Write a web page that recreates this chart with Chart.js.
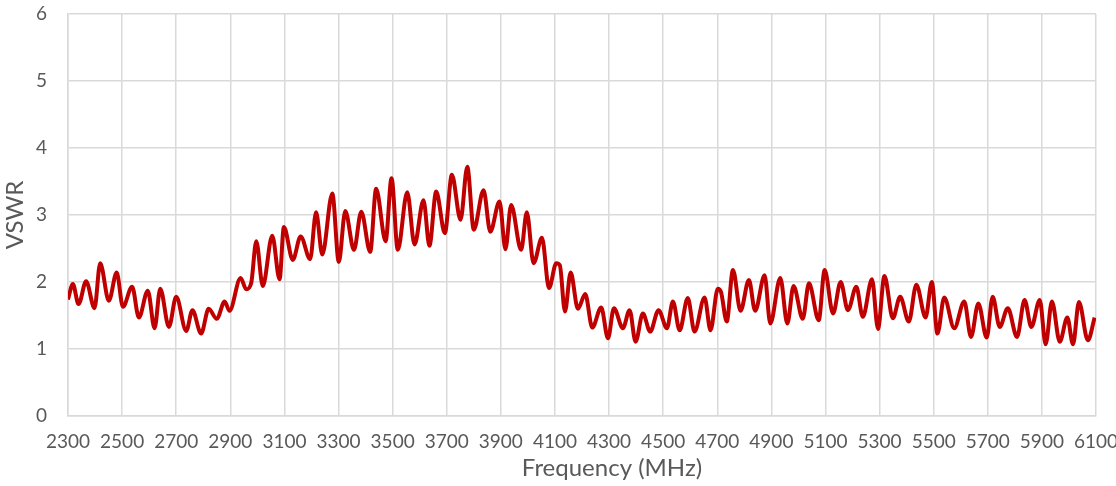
<!DOCTYPE html>
<html>
<head>
<meta charset="utf-8">
<script src="https://cdn.jsdelivr.net/npm/chart.js@4.4.1/dist/chart.umd.min.js"></script>
<style>
  html, body { margin: 0; padding: 0; background: #fff; }
  #wrap { width: 1116px; height: 486px; position: relative; }
</style>
</head>
<body>
<div id="wrap"><canvas id="myChart"></canvas></div>
<script>
const freq = [
  2300, 2318, 2339, 2367, 2398, 2419, 2451, 2480, 2503, 2537, 2562, 2595, 2620, 2641, 2673, 2700,
  2737, 2760, 2792, 2820, 2850, 2879, 2897, 2938, 2959, 2977, 2996, 3020, 3055, 3082, 3098, 3131,
  3160, 3195, 3217, 3240, 3277, 3301, 3325, 3357, 3384, 3417, 3439, 3474, 3496, 3519, 3554, 3581,
  3614, 3636, 3661, 3693, 3719, 3751, 3776, 3800, 3836, 3861, 3895, 3917, 3938, 3975, 3996, 4021,
  4052, 4078, 4105, 4118, 4137, 4158, 4185, 4212, 4238, 4271, 4296, 4318, 4351, 4376, 4398, 4425,
  4452, 4483, 4514, 4536, 4561, 4591, 4616, 4653, 4675, 4702, 4714, 4735, 4758, 4786, 4817, 4840,
  4875, 4896, 4933, 4959, 4982, 5016, 5039, 5075, 5097, 5128, 5156, 5183, 5214, 5238, 5272, 5294,
  5318, 5349, 5376, 5408, 5436, 5470, 5493, 5514, 5539, 5576, 5613, 5638, 5665, 5696, 5718, 5744,
  5774, 5808, 5836, 5861, 5892, 5914, 5937, 5966, 5994, 6015, 6037, 6070, 6095
];
const vswr = [
  1.74, 1.97, 1.67, 2.01, 1.61, 2.28, 1.72, 2.14, 1.63, 1.93, 1.47, 1.87, 1.31, 1.90, 1.33, 1.78,
  1.27, 1.58, 1.23, 1.60, 1.45, 1.71, 1.57, 2.06, 1.89, 1.98, 2.61, 1.94, 2.69, 2.04, 2.82, 2.33,
  2.68, 2.34, 3.04, 2.41, 3.32, 2.30, 3.06, 2.48, 3.05, 2.45, 3.39, 2.61, 3.55, 2.48, 3.34, 2.56,
  3.22, 2.54, 3.35, 2.73, 3.60, 2.93, 3.72, 2.78, 3.37, 2.75, 3.20, 2.49, 3.15, 2.48, 3.04, 2.28,
  2.66, 1.91, 2.28, 2.25, 1.56, 2.14, 1.60, 1.82, 1.32, 1.62, 1.16, 1.61, 1.31, 1.58, 1.11, 1.53,
  1.26, 1.58, 1.31, 1.71, 1.28, 1.76, 1.26, 1.77, 1.28, 1.90, 1.85, 1.41, 2.18, 1.57, 2.03, 1.57,
  2.10, 1.38, 2.06, 1.38, 1.94, 1.45, 1.98, 1.43, 2.18, 1.53, 2.00, 1.58, 1.93, 1.48, 2.04, 1.30,
  2.09, 1.46, 1.78, 1.41, 1.96, 1.47, 2.00, 1.23, 1.77, 1.31, 1.71, 1.18, 1.68, 1.17, 1.78, 1.33,
  1.61, 1.18, 1.73, 1.33, 1.73, 1.07, 1.71, 1.11, 1.47, 1.07, 1.70, 1.13, 1.47
];

const xMin = 2300, xMax = 6100, xStep = 200;
const yMin = 0, yMax = 6, yStep = 1;
const xTitle = "Frequency (MHz)";

document.addEventListener("DOMContentLoaded", function () {
  const ctx = document.getElementById("myChart").getContext("2d");
  const gridColor = "#d9d9d9";
  const textColor = "#595959";

  // x title sits a bit right of the plot centre in the original, so draw it here
  const xTitlePlugin = {
    id: "xTitle",
    afterDraw(chart) {
      const c = chart.ctx;
      c.save();
      c.font = "24px Lato";
      c.fillStyle = textColor;
      c.textAlign = "center";
      c.textBaseline = "middle";
      c.fillText(xTitle, 612, 468);
      c.restore();
    },
  };

  new Chart(ctx, {
    type: "line",
    data: {
      datasets: [
        {
          label: "VSWR",
          data: freq.map((f, i) => ({ x: f, y: vswr[i] })),
          borderColor: "#c00000",
          borderWidth: 4,
          pointRadius: 0,
          fill: false,
          cubicInterpolationMode: "monotone",
        },
      ],
    },
    plugins: [xTitlePlugin],
    options: {
      responsive: true,
      maintainAspectRatio: false,
      animation: false,
      layout: { padding: 0 },
      plugins: {
        legend: { display: false },
        tooltip: { enabled: false },
      },
      scales: {
        x: {
          type: "linear",
          min: xMin,
          max: xMax,
          grid: { color: gridColor, lineWidth: 1.5, drawTicks: false },
          border: { color: gridColor, width: 1.5 },
          ticks: {
            stepSize: xStep,
            padding: 14,
            color: textColor,
            font: { family: "Lato", size: 19 },
            maxRotation: 0,
            autoSkip: false,
            callback: (v) => String(v),
          },
          afterFit: (scale) => {
            scale.height = 70;
            scale.paddingLeft = 0;
            scale.paddingRight = 20;
          },
        },
        y: {
          min: yMin,
          max: yMax,
          grid: { color: gridColor, lineWidth: 1.5, drawTicks: false },
          border: { color: gridColor, width: 1.5 },
          ticks: {
            stepSize: yStep,
            padding: 21,
            color: textColor,
            font: { family: "Lato", size: 19 },
          },
          title: {
            display: true,
            text: "VSWR",
            color: textColor,
            font: { family: "Lato", size: 24 },
            padding: { top: 1, bottom: 0 },
          },
          afterFit: (scale) => {
            scale.width = 68;
            scale.paddingTop = 14;
            scale.paddingBottom = 0;
          },
        },
      },
    },
  });
});
</script>
</body>
</html>
